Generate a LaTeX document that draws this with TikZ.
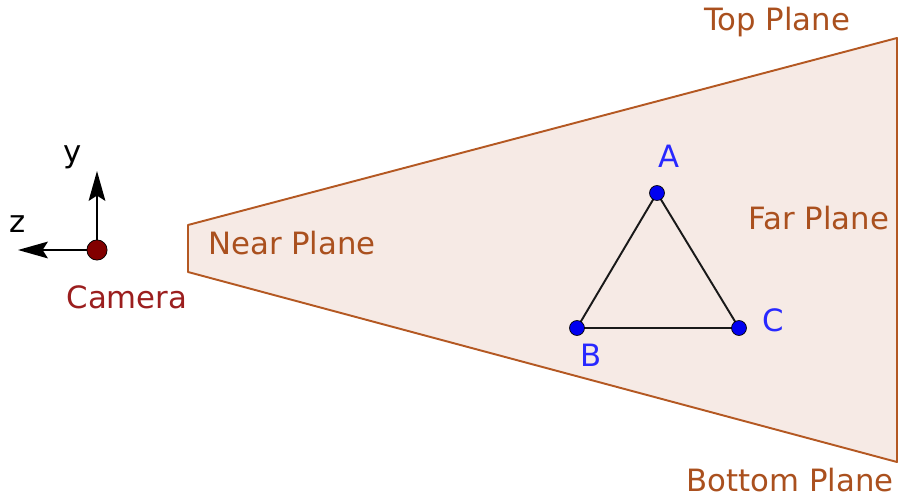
\documentclass[tikz,border=0pt]{standalone}
\usepackage{fontspec}
\setmainfont{DejaVu Sans}
\usetikzlibrary{arrows.meta}
\definecolor{planeedge}{RGB}{180,88,34}
\definecolor{planefill}{RGB}{246,234,229}
\definecolor{planetext}{RGB}{170,80,30}
\definecolor{camred}{RGB}{130,0,0}
\definecolor{camtext}{RGB}{155,30,30}
\definecolor{ptblue}{RGB}{0,0,240}
\definecolor{lblblue}{RGB}{40,40,255}
\begin{document}
\begin{tikzpicture}[x=0.02cm,y=-0.02cm,font=\fontsize{17.5}{20}\selectfont,
  plane/.style={text=planetext},
  pt/.style={circle,fill=ptblue,draw=black,line width=0.4pt,inner sep=0pt,minimum size=8.5pt},
  lbl/.style={text=lblblue},
  axis/.style={line width=1.1pt,-{Stealth[length=17pt,width=9.5pt,inset=3pt]}}]
\useasboundingbox (0,0) rectangle (899,497);
\filldraw[draw=planeedge,fill=planefill,line width=1.1pt,line join=round]
  (188,225)--(897,38)--(897,462)--(188,272)--cycle;
\node[plane] (near) at (292,243) {Near Plane};
\node[plane] (far) at (819,218) {Far Plane};
\node[plane] (top) at (777,22) {Top Plane};
\node[plane] (bottom) at (790,480) {Bottom Plane};
% triangle
\coordinate (a) at (657,193);
\coordinate (b) at (577,328);
\coordinate (c) at (739,328);
\draw[line width=1.1pt,black!90] (a)--(b)--(c)--cycle;
\node[pt] (pa) at (a) {};
\node[pt] (pb) at (b) {};
\node[pt] (pc) at (c) {};
\node[lbl] (la) at (669,156) {A};
\node[lbl] (lb) at (591,355) {B};
\node[lbl] (lc) at (773,320) {C};
% camera and axes
\coordinate (ytip) at (97,171);
\coordinate (ztip) at (18,250);
\node[circle,fill=camred,draw=black,line width=0.4pt,inner sep=0pt,minimum size=11.5pt] (cam) at (97,250) {};
\draw[axis] (cam)--(ytip);
\draw[axis] (cam)--(ztip);
\node (ly) at (73,157) {y};
\node (lz) at (18,224) {z};
\node[text=camtext] (lcam) at (127,297) {Camera};
\end{tikzpicture}
\end{document}
